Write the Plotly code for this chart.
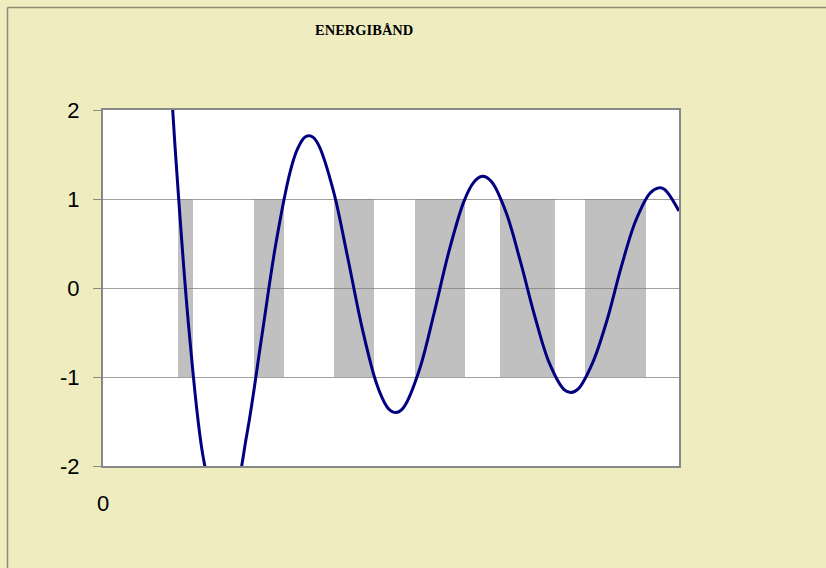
import plotly.graph_objects as go

# --- data ---
title_text = "ENERGIBÅND"

curve_x = [2.0, 2.5, 3.0, 3.5, 4.0, 4.5, 5.0, 5.5, 6.0, 6.5, 6.75, 7.0, 7.15, 7.3, 7.5,
           8.0, 8.5, 9.0, 9.5, 9.85, 10.0, 10.17, 10.35, 10.5, 11.0, 11.5, 12.0, 12.5,
           12.8, 13.0, 13.2, 13.5, 14.0, 14.5, 15.0, 15.5, 16.0, 16.25, 16.5, 17.0,
           17.5, 18.0, 18.5, 19.0, 19.3, 19.5, 20.0]
curve_y = [4.130, 1.593, -0.520, -1.939, -2.546, -2.383, -1.634, -0.574, 0.494, 1.308,
           1.560, 1.693, 1.712, 1.692, 1.597, 1.091, 0.337, -0.453, -1.076, -1.330,
           -1.383, -1.400, -1.374, -1.313, -0.905, -0.278, 0.397, 0.945, 1.154, 1.231,
           1.255, 1.190, 0.845, 0.290, -0.326, -0.845, -1.138, -1.174, -1.134, -0.841,
           -0.362, 0.243, 0.758, 1.068, 1.125, 1.107, 0.864]

band_start = [2.60, 5.26, 8.03, 10.85, 13.80, 16.74]
band_end = [3.14, 6.28, 9.42, 12.57, 15.71, 18.85]
band_low = -1
band_high = 1

y_ticks = [-2, -1, 0, 1, 2]
y_tick_labels = ["-2", "-1", "0", "1", "2"]
x_ticks = [0]
x_tick_labels = ["0"]

# --- figure ---
centers = [(a + b) / 2 for a, b in zip(band_start, band_end)]
widths = [b - a for a, b in zip(band_start, band_end)]

fig = go.Figure()
fig.add_trace(go.Bar(
    x=centers, width=widths, base=[band_low] * len(centers),
    y=[band_high - band_low] * len(centers),
    marker=dict(color="rgba(128,128,128,0.496)", line=dict(width=0)),
    hoverinfo="skip", showlegend=False,
))
fig.add_trace(go.Scatter(
    x=curve_x, y=curve_y, mode="lines", line=dict(color="#000080", width=3, shape="spline"),
    showlegend=False,
))

BG = "#EFEDC0"
fig.update_layout(
    width=826, height=568,
    margin=dict(l=103, r=147, t=110, b=102),
    paper_bgcolor=BG, plot_bgcolor="white",
    font=dict(family="Liberation Sans, Arial, sans-serif", color="black"),
    showlegend=False,
    bargap=0,
)
fig.update_xaxes(
    range=[0, 20], showgrid=False, zeroline=False,
    tickvals=x_ticks, ticktext=x_tick_labels, ticks="",
    tickfont=dict(size=22), ticklabelstandoff=17,
    showline=True, linecolor="#888888", linewidth=2, mirror=True,
)
fig.update_yaxes(
    range=[-2, 2], tickvals=y_ticks, ticktext=y_tick_labels,
    showgrid=True, gridcolor="#A0A0A0", gridwidth=1,
    zeroline=False, ticks="outside", ticklen=8, tickcolor="#888888", tickwidth=1,
    tickfont=dict(size=22), ticklabelstandoff=9,
    showline=True, linecolor="#888888", linewidth=2, mirror=True,
)

# title
fig.add_annotation(
    text="<b>" + title_text + "</b>", xref="paper", yref="paper",
    x=(364 - 103) / 576, y=(466 - 30) / 356, showarrow=False,
    font=dict(family="Liberation Serif, Times New Roman, serif", size=14.5, color="black"),
    xanchor="center", yanchor="middle",
)

# outer chart border (top and left visible)
bx = (7.5 - 103) / 576
by = (466 - 7.5) / 356
fig.add_shape(type="line", xref="paper", yref="paper", x0=bx, x1=2, y0=by, y1=by,
              line=dict(color="#8C8C74", width=1.5))
fig.add_shape(type="line", xref="paper", yref="paper", x0=bx, x1=bx, y0=by, y1=-2,
              line=dict(color="#8C8C74", width=1.5))

fig.write_html(
    "out.html",
    config={"displayModeBar": False},
    post_script="document.body.style.margin='0';document.body.style.overflow='hidden';"
                "document.body.style.background='" + BG + "';",
)
